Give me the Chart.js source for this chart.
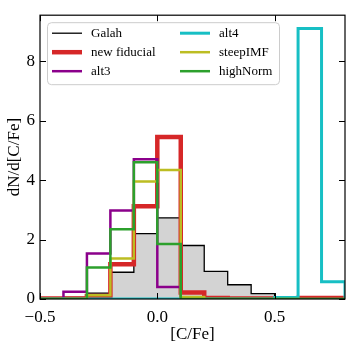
<!DOCTYPE html>
<html>
<head>
<meta charset="utf-8">
<script src="https://cdn.jsdelivr.net/npm/chart.js@4"></script>
<style>
  html, body { margin: 0; padding: 0; background: #fff; }
</style>
</head>
<body>
<canvas id="cfeHist" width="349" height="349"></canvas>
<script>
// bin edges of the [C/Fe] histograms
const binEdges = [-0.5, -0.4, -0.3, -0.2, -0.1, 0.0, 0.1, 0.2, 0.3, 0.4, 0.5, 0.6, 0.7, 0.8];

// dN/d[C/Fe] per bin, one array per model
const galah       = [0, 0.05, 0.2, 0.9, 2.2, 2.73, 1.8, 0.93, 0.48, 0.18, 0.05, 0, 0];
const newFiducial = [0.02, 0.02, 0.1, 1.17, 3.12, 5.45, 0.22, 0.03, 0.02, 0.02, 0.02, 0.03, 0.03];
const alt3        = [0, 0.24, 1.53, 2.98, 4.7, 0.4, 0, 0, 0, 0, 0, 0, 0];
const alt4        = [0, 0, 0, 0, 0, 0, 0, 0, 0, 0, 0.05, 9.1, 0.58];
const steepIMF    = [0, 0, 0.13, 1.36, 3.95, 4.34, 0.07, 0, 0, 0, 0, 0, 0];
const highNorm    = [0, 0, 1.06, 2.35, 4.6, 1.85, 0, 0, 0, 0, 0, 0, 0];

const xTicks = [-0.5, 0.0, 0.5];
const yTicks = [0, 2, 4, 6, 8];

// turn bin values into a closed step outline (like histtype='step')
function stepPoints(vals) {
    const pts = [{x: binEdges[0], y: 0}];
    vals.forEach((v, i) => pts.push({x: binEdges[i], y: v}));
    const last = binEdges[binEdges.length - 1];
    pts.push({x: last, y: vals[vals.length - 1]});
    pts.push({x: last, y: 0});
    return pts;
}

function histSet(label, vals, color, width, order, fill) {
    return {
        label: label,
        data: stepPoints(vals),
        stepped: 'before',
        borderColor: color,
        borderWidth: width,
        backgroundColor: fill || 'transparent',
        fill: fill ? 'origin' : false,
        pointRadius: 0,
        order: order
    };
}

const datasets = [
    histSet('Galah', galah, '#000000', 1.3, 6, '#d3d3d3'),
    histSet('new fiducial', newFiducial, '#d62728', 4.5, 5),
    histSet('alt3', alt3, '#8b008b', 2.5, 4),
    histSet('alt4', alt4, '#17bfc4', 3, 3),
    histSet('steepIMF', steepIMF, '#bcbd22', 2.5, 2),
    histSet('highNorm', highNorm, '#2ca02c', 2.5, 1)
];

const serif = '"Liberation Serif", "DejaVu Serif", serif';

// frame, inward ticks on all sides, and the two-column legend
const framePlugin = {
    id: 'frame',
    afterDatasetsDraw(chart) {
        const {ctx, chartArea: a, scales: {x, y}} = chart;
        ctx.save();
        ctx.strokeStyle = '#000';
        ctx.lineWidth = 1.2;
        ctx.strokeRect(a.left, a.top, a.right - a.left, a.bottom - a.top);
        ctx.lineWidth = 1;
        const tl = 6;
        ctx.beginPath();
        xTicks.forEach(v => {
            const px = Math.round(x.getPixelForValue(v)) + 0.5;
            ctx.moveTo(px, a.bottom); ctx.lineTo(px, a.bottom - tl);
            ctx.moveTo(px, a.top); ctx.lineTo(px, a.top + tl);
        });
        yTicks.forEach(v => {
            const py = Math.round(y.getPixelForValue(v)) + 0.5;
            ctx.moveTo(a.left, py); ctx.lineTo(a.left + tl, py);
            ctx.moveTo(a.right, py); ctx.lineTo(a.right - tl, py);
        });
        ctx.stroke();
        ctx.restore();
    },
    afterDraw(chart) {
        const {ctx, chartArea: a} = chart;
        const bx = a.left + 7, by = a.top + 7, bw = 232, bh = 62;
        ctx.save();
        ctx.fillStyle = 'rgba(255,255,255,0.8)';
        ctx.strokeStyle = '#cccccc';
        ctx.lineWidth = 1;
        ctx.beginPath();
        ctx.roundRect(bx + 0.5, by + 0.5, bw, bh, 4);
        ctx.fill();
        ctx.stroke();
        ctx.font = '13px ' + serif;
        ctx.textBaseline = 'middle';
        datasets.forEach((ds, i) => {
            const col = Math.floor(i / 3), row = i % 3;
            const lx = bx + 5 + col * 128;
            const ly = by + 11 + row * 19;
            ctx.strokeStyle = ds.borderColor;
            ctx.lineWidth = ds.borderWidth;
            ctx.beginPath();
            ctx.moveTo(lx, ly); ctx.lineTo(lx + 30, ly);
            ctx.stroke();
            ctx.fillStyle = '#000';
            ctx.fillText(ds.label, lx + 39, ly);
        });
        ctx.restore();
    }
};

const cfeConfig = {
    type: 'line',
    data: { datasets: datasets },
    options: {
        responsive: false,
        animation: false,
        devicePixelRatio: 1,
        layout: { padding: { top: 3, right: 4, left: 0, bottom: 0 } },
        plugins: { legend: { display: false }, tooltip: { enabled: false } },
        scales: {
            x: {
                type: 'linear',
                min: -0.5,
                max: 0.8,
                grid: { display: false, drawTicks: false },
                border: { display: false },
                afterBuildTicks: s => { s.ticks = xTicks.map(v => ({value: v})); },
                afterFit: s => { s.height = 50; },
                ticks: {
                    padding: 8,
                    color: '#000',
                    font: { family: serif, size: 17 },
                    callback: v => (v < 0 ? '\u2212' : '') + Math.abs(v).toFixed(1)
                },
                title: {
                    display: true,
                    text: '[C/Fe]',
                    color: '#000',
                    font: { family: serif, size: 17 },
                    padding: { top: 0, bottom: 4 }
                }
            },
            y: {
                min: 0,
                max: 9.55,
                grid: { display: false, drawTicks: false },
                border: { display: false },
                afterBuildTicks: s => { s.ticks = yTicks.map(v => ({value: v})); },
                afterFit: s => { s.width = 40; },
                ticks: {
                    padding: 5,
                    color: '#000',
                    font: { family: serif, size: 17 },
                    callback: v => String(v)
                },
                title: {
                    display: true,
                    text: 'dN/d[C/Fe]',
                    color: '#000',
                    font: { family: serif, size: 17 },
                    padding: { top: 4, bottom: 0 }
                }
            }
        }
    },
    plugins: [framePlugin]
};

const cfeChart = new Chart(document.getElementById('cfeHist'), cfeConfig);
</script>
</body>
</html>
